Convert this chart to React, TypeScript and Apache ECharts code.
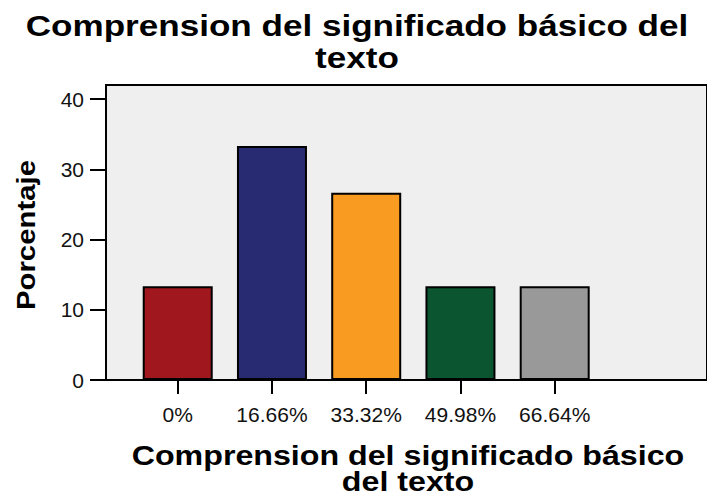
import React, { useEffect, useRef } from "react";
import * as echarts from "echarts";

const categories = ["0%", "16.66%", "33.32%", "49.98%", "66.64%"];
const percentages = [13.33, 33.33, 26.67, 13.33, 13.33];
const barColors = ["#a0181d", "#282a72", "#f99a21", "#0b5530", "#999999"];
const yTicks = [0, 10, 20, 30, 40];
const titleText = "Comprension del significado básico del\ntexto";
const xName = "Comprension del significado básico\ndel texto";
const yName = "Porcentaje";

const FONT = '"Liberation Sans", Arial, sans-serif';

export default function App() {
  const ref = useRef<HTMLDivElement>(null);
  useEffect(() => {
    const chart = echarts.init(ref.current as HTMLDivElement, null, { renderer: "svg" });
    const idx = categories.map((_, i) => i);
    const black = { color: "#000", width: 2 };
    chart.setOption({
      animation: false,
      grid: {
        left: 106,
        right: 0,
        top: 85,
        bottom: 115,
        show: true,
        backgroundColor: "#efefef",
        borderColor: "#000",
        borderWidth: 2,
      },
      xAxis: {
        type: "value",
        min: -0.761,
        max: 5.616,
        splitLine: { show: false },
        axisLine: { show: true, onZero: false, lineStyle: black },
        axisTick: { show: true, customValues: idx, length: 14, lineStyle: black },
        axisLabel: {
          customValues: idx,
          formatter: (v: number) => categories[Math.round(v)] ?? "",
          fontSize: 21,
          color: "#111",
          margin: 24,
          fontFamily: FONT,
        },
      },
      yAxis: {
        type: "value",
        min: 0,
        max: 42,
        splitLine: { show: false },
        axisLine: { show: true, onZero: false, lineStyle: black },
        axisTick: { show: true, customValues: yTicks, length: 16, lineStyle: black },
        axisLabel: {
          customValues: yTicks,
          fontSize: 21,
          color: "#111",
          margin: 22,
          fontFamily: FONT,
        },
      },
      series: [
        {
          type: "bar",
          barWidth: 70,
          data: percentages.map((v, i) => ({
            value: [i, v],
            itemStyle: { color: barColors[i] },
          })),
          itemStyle: { borderColor: "#000", borderWidth: 2 },
        },
      ],
      graphic: [
        {
          type: "text",
          x: 357,
          y: 42,
          scaleX: 1.21,
          style: {
            text: titleText,
            font: `bold 29px ${FONT}`,
            textAlign: "center",
            textVerticalAlign: "middle",
            lineHeight: 32,
            fill: "#000",
          },
        },
        {
          type: "text",
          x: 408,
          y: 468,
          scaleX: 1.15,
          style: {
            text: xName,
            font: `bold 28px ${FONT}`,
            textAlign: "center",
            textVerticalAlign: "middle",
            lineHeight: 26,
            fill: "#000",
          },
        },
        {
          type: "text",
          x: 26,
          y: 235,
          rotation: Math.PI / 2,
          scaleX: 1.13,
          style: {
            text: yName,
            font: `bold 26px ${FONT}`,
            textAlign: "center",
            textVerticalAlign: "middle",
            fill: "#000",
          },
        },
      ],
    });
    return () => chart.dispose();
  }, []);
  return (
    <div
      ref={ref}
      style={{ position: "absolute", left: 0, top: 0, width: 707, height: 495 }}
    />
  );
}
